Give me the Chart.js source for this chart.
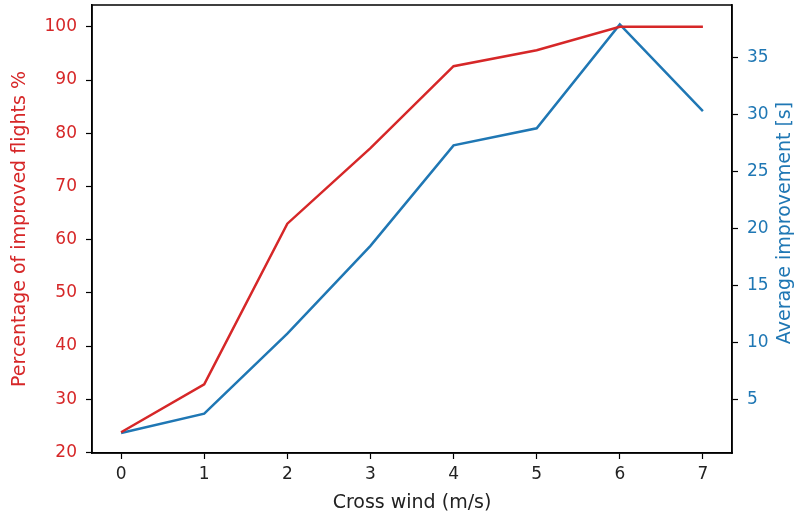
<html>
<head>
<script src="https://cdn.jsdelivr.net/npm/chart.js@4"></script>
<style>
  body { margin: 0; background: #fff; }
  #wrap { width: 796px; height: 517px; }
</style>
</head>
<body>
<div id="wrap"><canvas id="myChart" width="796" height="517"></canvas></div>
<script>
// data
var crossWind = [0, 1, 2, 3, 4, 5, 6, 7];
var pctImproved = [23.8, 32.8, 63.0, 77.2, 92.6, 95.6, 100, 100];
var avgImprovement = [2.1, 3.8, 10.8, 18.5, 27.3, 28.8, 37.9, 30.3];

var xTicks = [0, 1, 2, 3, 4, 5, 6, 7];
var leftTicks = [20, 30, 40, 50, 60, 70, 80, 90, 100];
var rightTicks = [5, 10, 15, 20, 25, 30, 35];

var red = '#d62728';
var blue = '#1f77b4';
var font = { family: 'DejaVu Sans', size: 17 };
var titleFont = { family: 'DejaVu Sans', size: 19 };

function pts(xs, ys) {
    return xs.map(function (x, i) { return { x: x, y: ys[i] }; });
}
function setTicks(list) {
    return function (scale) {
        scale.ticks = list.map(function (v) { return { value: v }; });
    };
}
function fitWidth(w) {
    return function (s) { s.width = w; s.paddingTop = 0; s.paddingBottom = 0; };
}

// box round the plot and the right label read bottom-to-top, like matplotlib
var frame = {
    id: 'frame',
    afterDraw: function (chart) {
        var a = chart.chartArea, ctx = chart.ctx;
        ctx.save();
        ctx.strokeStyle = '#000';
        ctx.lineWidth = 1.5;
        ctx.strokeRect(a.left, a.top, a.right - a.left, a.bottom - a.top);
        ctx.translate(785, (a.top + a.bottom) / 2 - 6);
        ctx.rotate(-Math.PI / 2);
        ctx.fillStyle = blue;
        ctx.font = titleFont.size + 'px ' + titleFont.family;
        ctx.textAlign = 'center';
        ctx.textBaseline = 'middle';
        ctx.fillText('Average improvement [s]', 0, 0);
        ctx.restore();
    }
};

var ctx = document.getElementById('myChart').getContext('2d');
var chart = new Chart(ctx, {
    type: 'line',
    data: {
        datasets: [{
            data: pts(crossWind, pctImproved),
            borderColor: red,
            borderWidth: 2.5,
            pointRadius: 0,
            tension: 0,
            yAxisID: 'y'
        }, {
            data: pts(crossWind, avgImprovement),
            borderColor: blue,
            borderWidth: 2.5,
            pointRadius: 0,
            tension: 0,
            yAxisID: 'y2'
        }]
    },
    options: {
        responsive: false,
        animation: false,
        layout: { padding: { top: 5, left: 0, right: 0, bottom: 0 } },
        plugins: { legend: { display: false }, tooltip: { enabled: false } },
        scales: {
            x: {
                type: 'linear',
                min: -0.35, max: 7.35,
                afterBuildTicks: setTicks(xTicks),
                afterFit: function (s) { s.height = 64; s.paddingLeft = 0; s.paddingRight = 0; },
                grid: { drawOnChartArea: false, tickLength: 6, tickColor: '#000', tickWidth: 1.2 },
                border: { color: '#000', width: 1.5 },
                ticks: { color: '#222', font: font, padding: 5, maxRotation: 0 },
                title: { display: true, text: 'Cross wind (m/s)', color: '#222', font: titleFont, padding: { top: 0, bottom: 3 } }
            },
            y: {
                position: 'left',
                min: 19.9, max: 104.1,
                afterBuildTicks: setTicks(leftTicks),
                afterFit: fitWidth(92),
                grid: { drawOnChartArea: false, tickLength: 6, tickColor: '#000', tickWidth: 1.2 },
                border: { color: '#000', width: 1.5 },
                ticks: { color: red, font: font, padding: 9 },
                title: { display: true, text: 'Percentage of improved flights %', color: red, font: titleFont, padding: { top: 9, bottom: 0 } }
            },
            y2: {
                position: 'right',
                min: 0.35, max: 39.6,
                afterBuildTicks: setTicks(rightTicks),
                afterFit: fitWidth(64),
                grid: { drawOnChartArea: false, tickLength: 6, tickColor: '#000', tickWidth: 1.2 },
                border: { color: '#000', width: 1.5 },
                ticks: { color: blue, font: font, padding: 9 },
                title: { display: false }
            }
        }
    },
    plugins: [frame]
});
</script>
</body>
</html>
